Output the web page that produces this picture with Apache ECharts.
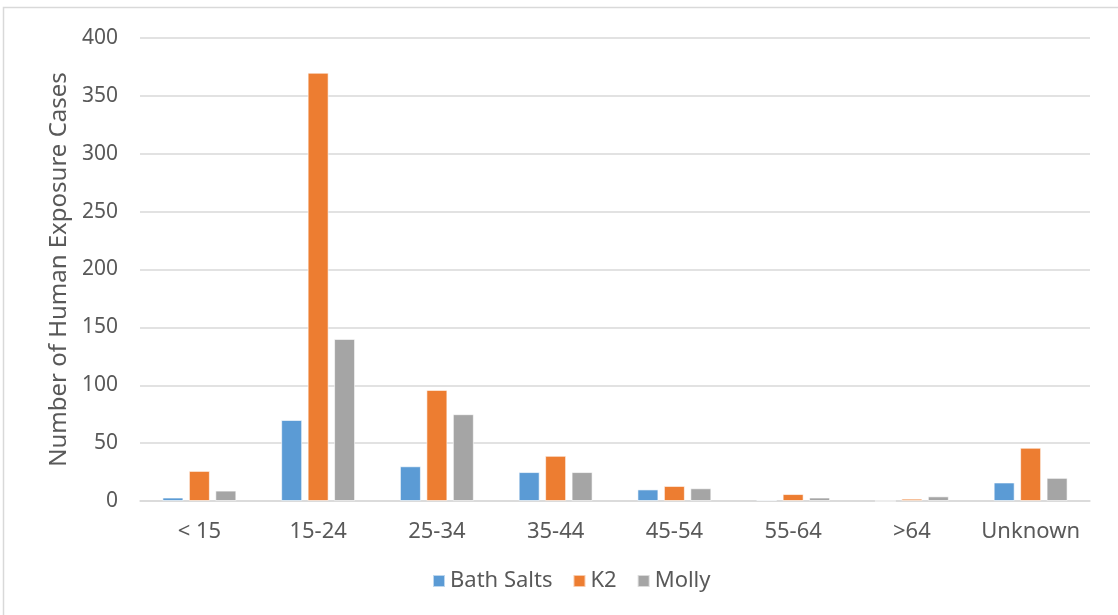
<!DOCTYPE html>
<html>
<head>
<meta charset="utf-8">
<script src="https://cdn.jsdelivr.net/npm/echarts@6/dist/echarts.min.js"></script>
<style>
  html, body { margin: 0; padding: 0; background: #fff; }
  #chart { width: 1118px; height: 615px; }
</style>
</head>
<body>
<div id="chart"></div>
<script>
// Age groups on the category axis
const ageGroups = ['< 15', '15-24', '25-34', '35-44', '45-54', '55-64', '>64', 'Unknown'];

// Human exposure cases per age group
const bathSalts = [3, 70, 30, 25, 10, 1, 0, 16];
const k2 = [26, 370, 96, 39, 13, 6, 2, 46];
const molly = [9, 140, 75, 25, 11, 3, 4, 20];

// Value axis range
const yMin = 0;
const yMax = 400;
const yStep = 50;

const textColor = '#595959';
const gridColor = '#D9D9D9';
const fontFamily = '"Noto Sans", "Open Sans", sans-serif';

const chart = echarts.init(document.getElementById('chart'), null, { renderer: 'canvas' });

const barStyle = (color) => ({
  color: color,
  borderColor: 'rgba(255,255,255,0.6)',
  borderWidth: 1
});

chart.setOption({
  animation: false,
  backgroundColor: '#ffffff',
  textStyle: { fontFamily: fontFamily, color: textColor },
  graphic: [{
    type: 'rect',
    shape: { x: 3.5, y: 7.5, width: 1300, height: 800 },
    style: { fill: 'none', stroke: gridColor, lineWidth: 1.5 },
    silent: true
  }],
  grid: { left: 140, right: 28, top: 38, bottom: 114 },
  legend: {
    bottom: 18,
    left: 427,
    itemWidth: 12,
    itemHeight: 12,
    itemGap: 20,
    icon: 'rect',
    textStyle: { fontSize: 22, color: textColor, fontFamily: fontFamily },
    data: ['Bath Salts', 'K2', 'Molly']
  },
  xAxis: {
    type: 'category',
    data: ageGroups,
    axisLine: { show: true, lineStyle: { color: gridColor, width: 1.5 } },
    axisTick: { show: false },
    axisLabel: { interval: 0, fontSize: 22, color: textColor, margin: 20, fontFamily: fontFamily },
    splitLine: { show: false }
  },
  yAxis: {
    type: 'value',
    min: yMin,
    max: yMax,
    interval: yStep,
    name: 'Number of Human Exposure Cases',
    nameLocation: 'middle',
    nameGap: 68,
    nameTextStyle: { fontSize: 24, color: textColor, fontFamily: fontFamily },
    axisLine: { show: false },
    axisTick: { show: false },
    axisLabel: { fontSize: 21, color: textColor, margin: 22, fontFamily: fontFamily },
    splitLine: { lineStyle: { color: gridColor, width: 1.5 } }
  },
  series: [
    { name: 'Bath Salts', type: 'bar', data: bathSalts, barWidth: 21, barGap: '26%', itemStyle: barStyle('#5B9BD5') },
    { name: 'K2', type: 'bar', data: k2, barWidth: 21, barGap: '26%', itemStyle: barStyle('#ED7D31') },
    { name: 'Molly', type: 'bar', data: molly, barWidth: 21, barGap: '26%', itemStyle: barStyle('#A5A5A5') }
  ]
});
</script>
</body>
</html>
